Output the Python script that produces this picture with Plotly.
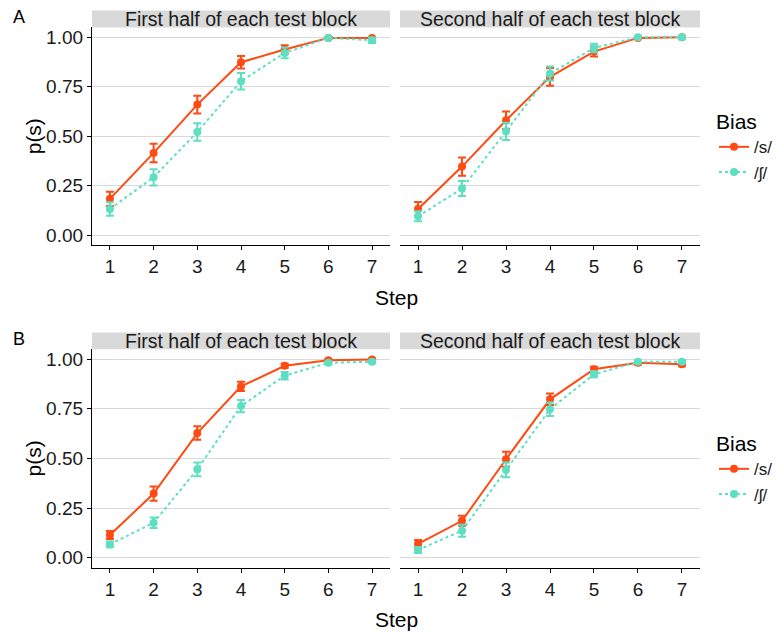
import plotly.graph_objects as go

steps = [1, 2, 3, 4, 5, 6, 7]
panel_titles = ["First half of each test block", "Second half of each test block"]
bias_labels = ["/s/", "/ʃ/"]
y_ticks = [0, 0.25, 0.5, 0.75, 1.0]
y_ticklabels = ["0.00", "0.25", "0.50", "0.75", "1.00"]

# Panel A
s_A1 = [0.184, 0.416, 0.660, 0.874, 0.938, 0.997, 0.997]
s_A1_err = [0.036, 0.047, 0.045, 0.032, 0.022, 0.005, 0.005]
sh_A1 = [0.133, 0.293, 0.522, 0.778, 0.921, 0.997, 0.985]
sh_A1_err = [0.034, 0.041, 0.044, 0.042, 0.027, 0.005, 0.014]
s_A2 = [0.133, 0.347, 0.581, 0.800, 0.928, 0.997, 1.0]
s_A2_err = [0.035, 0.046, 0.044, 0.045, 0.025, 0.004, 0.003]
sh_A2 = [0.096, 0.236, 0.525, 0.817, 0.946, 1.0, 1.0]
sh_A2_err = [0.025, 0.038, 0.044, 0.035, 0.022, 0.003, 0.003]
# Panel B
s_B1 = [0.114, 0.323, 0.628, 0.863, 0.967, 0.995, 0.998]
s_B1_err = [0.020, 0.036, 0.034, 0.023, 0.010, 0.005, 0.004]
sh_B1 = [0.067, 0.176, 0.445, 0.764, 0.917, 0.982, 0.987]
sh_B1_err = [0.015, 0.026, 0.035, 0.031, 0.019, 0.008, 0.007]
s_B2 = [0.069, 0.186, 0.496, 0.798, 0.950, 0.982, 0.975]
s_B2_err = [0.020, 0.025, 0.038, 0.029, 0.012, 0.008, 0.010]
sh_B2 = [0.039, 0.136, 0.442, 0.748, 0.924, 0.987, 0.987]
sh_B2_err = [0.015, 0.030, 0.037, 0.034, 0.015, 0.006, 0.006]

ORANGE = "#FF4A12"
TEAL = "#5FDFC2"
FONT = "Liberation Sans, Arial, Helvetica, sans-serif"
OFF = 8  # page body margin
W, H = 783 - OFF, 632 - OFF

def px_x(p):
    return (p - OFF) / W

def px_y(p):
    return 1 - (p - OFF) / H

xdom = [[px_x(92), px_x(390)], [px_x(400), px_x(700)]]
# (plot top, plot bottom, strip top) in page pixels
rows = [(27.4, 245.2, 10.6), (349.3, 567.6, 332.6)]

fig = go.Figure()

data = [
    [(s_A1, s_A1_err, sh_A1, sh_A1_err), (s_A2, s_A2_err, sh_A2, sh_A2_err)],
    [(s_B1, s_B1_err, sh_B1, sh_B1_err), (s_B2, s_B2_err, sh_B2, sh_B2_err)],
]

layout = {}
shapes = []
annotations = []
idx = 0
for r, (ptop, pbot, stop) in enumerate(rows):
    ydom = [px_y(pbot), px_y(ptop)]
    for c in range(2):
        idx += 1
        xa = "x" if idx == 1 else f"x{idx}"
        ya = "y" if idx == 1 else f"y{idx}"
        legend_name = "legend" if r == 0 else "legend2"
        s_v, s_e, sh_v, sh_e = data[r][c]
        fig.add_trace(go.Scatter(
            x=steps, y=s_v, mode="lines+markers", name=bias_labels[0],
            line=dict(color=ORANGE, width=2, dash="solid"),
            marker=dict(color=ORANGE, size=8),
            error_y=dict(type="data", array=s_e, color=ORANGE, thickness=2, width=4),
            xaxis=xa, yaxis=ya, legend=legend_name, showlegend=(c == 0),
        ))
        fig.add_trace(go.Scatter(
            x=steps, y=sh_v, mode="lines+markers", name=bias_labels[1],
            line=dict(color=TEAL, width=2, dash="dot"),
            marker=dict(color=TEAL, size=8),
            error_y=dict(type="data", array=sh_e, color=TEAL, thickness=2, width=4),
            xaxis=xa, yaxis=ya, legend=legend_name, showlegend=(c == 0),
        ))
        xkey = "xaxis" if idx == 1 else f"xaxis{idx}"
        ykey = "yaxis" if idx == 1 else f"yaxis{idx}"
        layout[xkey] = dict(
            domain=xdom[c], anchor=ya, range=[0.59, 7.41],
            tickvals=steps, ticktext=[str(s) for s in steps],
            showline=True, linecolor="black", linewidth=1.2,
            ticks="outside", ticklen=4, tickcolor="black", tickwidth=1.2,
            showgrid=False, zeroline=False,
            tickfont=dict(size=19, color="#1a1a1a", family=FONT),
            automargin=False, fixedrange=True,
        )
        layout[ykey] = dict(
            domain=ydom, anchor=xa, range=[-0.05, 1.05],
            tickvals=y_ticks, ticktext=y_ticklabels,
            showgrid=True, gridcolor="#D9D9D9", gridwidth=1.2,
            zeroline=False,
            showline=(c == 0), linecolor="black", linewidth=1.2,
            ticks="outside" if c == 0 else "", ticklen=4, tickcolor="black", tickwidth=1.2,
            showticklabels=(c == 0),
            tickfont=dict(size=19, color="#1a1a1a", family=FONT),
            automargin=False, fixedrange=True,
        )
        # strip
        shapes.append(dict(
            type="rect", xref="paper", yref="paper",
            x0=xdom[c][0], x1=xdom[c][1], y0=px_y(ptop), y1=px_y(stop),
            fillcolor="#D9D9D9", line=dict(width=0), layer="below",
        ))
        annotations.append(dict(
            text=panel_titles[c], xref="paper", yref="paper",
            x=(xdom[c][0] + xdom[c][1]) / 2, y=px_y((ptop + stop) / 2),
            xanchor="center", yanchor="middle", showarrow=False,
            font=dict(size=19.5, color="#1a1a1a", family=FONT),
        ))
    # axis titles
    annotations.append(dict(
        text="Step", xref="paper", yref="paper",
        x=px_x(396), y=px_y(pbot + 52), xanchor="center", yanchor="middle",
        showarrow=False, font=dict(size=21, color="black", family=FONT),
    ))
    annotations.append(dict(
        text="p(s)", xref="paper", yref="paper", textangle=-90,
        x=px_x(33), y=px_y((ptop + pbot) / 2), xanchor="center", yanchor="middle",
        showarrow=False, font=dict(size=21, color="black", family=FONT),
    ))
    annotations.append(dict(
        text="A" if r == 0 else "B", xref="paper", yref="paper",
        x=px_x(3 + OFF), y=px_y(stop + 6), xanchor="left", yanchor="middle",
        showarrow=False, font=dict(size=18, color="black", family=FONT),
    ))

legend_common = dict(
    xanchor="left", yanchor="top", bgcolor="rgba(0,0,0,0)",
    font=dict(size=17, color="#1a1a1a", family=FONT),
    title=dict(text="Bias", font=dict(size=21, color="black", family=FONT)),
    itemwidth=30, tracegroupgap=0,
)
layout["legend"] = dict(x=px_x(714), y=px_y(102), **legend_common)
layout["legend2"] = dict(x=px_x(714), y=px_y(424), **legend_common)

fig.update_layout(
    width=W, height=H,
    margin=dict(l=0, r=0, t=0, b=0),
    paper_bgcolor="white", plot_bgcolor="white",
    shapes=shapes, annotations=annotations,
    font=dict(family=FONT),
    **layout,
)

fig.write_html("out.html")
